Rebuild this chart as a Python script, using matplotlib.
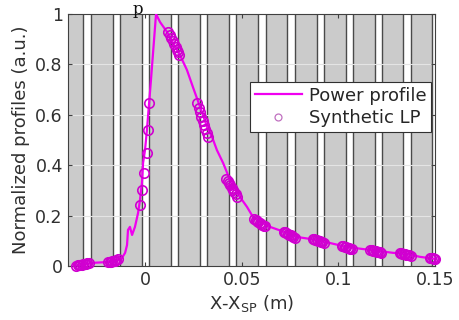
import matplotlib
matplotlib.use("Agg")
import matplotlib.pyplot as plt

# Power profile (normalized)
power_x = [-0.0362, -0.0326, -0.0274, -0.0181, -0.0140, -0.0119, -0.0103, -0.0093,
           -0.0088, -0.0078, -0.0067, -0.0052, -0.0036, -0.0026, -0.0016, -0.0010,
           0.0000, 0.0010, 0.0031, 0.0057, 0.0078, 0.0114, 0.0145, 0.0181, 0.0217,
           0.0248, 0.0285, 0.0321, 0.0347, 0.0372, 0.0404, 0.0440, 0.0491, 0.0528,
           0.0559, 0.0595, 0.0647, 0.0735, 0.0786, 0.0890, 0.0957, 0.1045, 0.1128,
           0.1200, 0.1283, 0.1355, 0.1423, 0.1500]
power_y = [0.000, 0.004, 0.012, 0.016, 0.024, 0.032, 0.052, 0.083,
           0.143, 0.155, 0.123, 0.155, 0.210, 0.262, 0.329, 0.409,
           0.460, 0.540, 0.740, 1.000, 0.968, 0.929, 0.885, 0.837, 0.778,
           0.710, 0.631, 0.552, 0.512, 0.460, 0.409, 0.341, 0.274, 0.234,
           0.194, 0.175, 0.155, 0.131, 0.115, 0.103, 0.091, 0.075, 0.067,
           0.060, 0.052, 0.048, 0.036, 0.028]

# Synthetic Langmuir probe points
lp_x = [-0.0355, -0.0348, -0.0341, -0.0334, -0.0327, -0.0320, -0.0313, -0.0306, -0.0299, -0.0292,
        -0.0190, -0.0183, -0.0176, -0.0169, -0.0162, -0.0155, -0.0148, -0.0141,
        -0.0026, -0.0016, -0.0005, 0.0010, 0.0016, 0.0021,
        0.0120, 0.0128, 0.0136, 0.0144, 0.0151, 0.0158, 0.0165, 0.0172, 0.0178,
        0.0270, 0.0277, 0.0284, 0.0291, 0.0298, 0.0305, 0.0312, 0.0320, 0.0328,
        0.0420, 0.0427, 0.0434, 0.0441, 0.0448, 0.0455, 0.0462, 0.0470, 0.0478,
        0.0565, 0.0572, 0.0579, 0.0586, 0.0593, 0.0600, 0.0607, 0.0614, 0.0621,
        0.0718, 0.0725, 0.0732, 0.0739, 0.0746, 0.0753, 0.0760, 0.0767, 0.0774,
        0.0868, 0.0875, 0.0882, 0.0889, 0.0896, 0.0903, 0.0910, 0.0917, 0.0924,
        0.1020, 0.1027, 0.1034, 0.1041, 0.1048, 0.1055, 0.1062, 0.1069,
        0.1165, 0.1172, 0.1179, 0.1186, 0.1193, 0.1200, 0.1207, 0.1214, 0.1221,
        0.1318, 0.1325, 0.1332, 0.1339, 0.1346, 0.1353, 0.1360, 0.1367, 0.1374,
        0.1475, 0.1482, 0.1489, 0.1496, 0.1500]
lp_y = [0.000, 0.002, 0.003, 0.004, 0.005, 0.006, 0.008, 0.009, 0.010, 0.011,
        0.016, 0.016, 0.017, 0.018, 0.019, 0.021, 0.023, 0.026,
        0.242, 0.302, 0.369, 0.448, 0.540, 0.647,
        0.930, 0.918, 0.905, 0.893, 0.880, 0.868, 0.858, 0.848, 0.838,
        0.645, 0.628, 0.610, 0.593, 0.575, 0.558, 0.542, 0.527, 0.512,
        0.345, 0.337, 0.329, 0.320, 0.311, 0.302, 0.293, 0.284, 0.275,
        0.188, 0.184, 0.180, 0.176, 0.172, 0.168, 0.164, 0.160, 0.157,
        0.136, 0.133, 0.130, 0.127, 0.124, 0.121, 0.118, 0.115, 0.112,
        0.108, 0.106, 0.104, 0.102, 0.100, 0.098, 0.096, 0.094, 0.092,
        0.081, 0.079, 0.077, 0.075, 0.073, 0.071, 0.069, 0.067,
        0.065, 0.063, 0.061, 0.059, 0.058, 0.057, 0.056, 0.054, 0.053,
        0.053, 0.051, 0.049, 0.047, 0.046, 0.045, 0.043, 0.042, 0.041,
        0.032, 0.031, 0.030, 0.029, 0.028]

# Gaps between gray tiles (start positions, m)
gap_starts = [-0.0320, -0.0168, -0.0017, 0.0133, 0.0283, 0.0433, 0.0585,
              0.0735, 0.0888, 0.1038, 0.1188, 0.1335, 0.1485]
gap_width = 0.0039

x_ticks = [0, 0.05, 0.1, 0.15]
x_tick_labels = ["0", "0.05", "0.1", "0.15"]
y_ticks = [0, 0.2, 0.4, 0.6, 0.8, 1.0]
y_tick_labels = ["0", "0.2", "0.4", "0.6", "0.8", "1"]

xmin, xmax = -0.04, 0.15

fig = plt.figure(figsize=(4.59, 3.20), dpi=100)
ax = fig.add_axes([0.1475, 0.169, 0.800, 0.787])
ax.set_xlim(xmin, xmax)
ax.set_ylim(0, 1)

tile_color = "#cbcbcb"
edge_color = "#4a4a4a"
# gray tiles
left = xmin
for gs in gap_starts:
    if gs > left:
        ax.axvspan(left, gs, color=tile_color, lw=0, zorder=0)
    left = gs + gap_width
if left < xmax:
    ax.axvspan(left, xmax, color=tile_color, lw=0, zorder=0)
for gs in gap_starts:
    for e in (gs, gs + gap_width):
        if xmin < e < xmax:
            ax.axvline(e, color=edge_color, lw=1.0, zorder=1)

for yt in y_ticks[1:-1]:
    ax.axhline(yt, color="#e4e4e4", lw=0.8, zorder=1.5)

ax.plot(power_x, power_y, color="#f000f0", lw=1.6, zorder=3, label="Power profile")
ax.plot(lp_x, lp_y, linestyle="none", marker="o", ms=6.8, mfc="none",
        mec="#d000d0", mew=1.2, zorder=4, clip_on=False, label="Synthetic LP")

ax.set_xticks(x_ticks)
ax.set_xticklabels(x_tick_labels)
ax.set_yticks(y_ticks)
ax.set_yticklabels(y_tick_labels)
ax.tick_params(direction="in", length=3, width=0.8, colors="#404040",
               labelcolor="#303030", labelsize=12.5, top=True, right=True)
for s in ax.spines.values():
    s.set_color("#404040")
    s.set_linewidth(0.8)

ax.set_xlabel("X-X$_{\\mathrm{SP}}$ (m)", fontsize=13, color="#303030", labelpad=3)
ax.set_ylabel("Normalized profiles (a.u.)", fontsize=13, color="#303030", labelpad=4)

leg = ax.legend(loc="upper right", bbox_to_anchor=(0.99, 0.73), fontsize=13,
                frameon=True, fancybox=False, framealpha=1, edgecolor="#303030",
                borderpad=0.25, handlelength=2.6, handletextpad=0.4, labelspacing=0.25,
                borderaxespad=0.0)
leg.get_frame().set_linewidth(0.8)
for t in leg.get_texts():
    t.set_color("#262626")
leg.legend_handles[1].set_markersize(5)
leg.legend_handles[1].set_markeredgewidth(0.9)
leg.legend_handles[1].set_markeredgecolor("#c070c0")

fig.text(0.300, 0.997, "p", family="DejaVu Serif", fontsize=12, color="#111111",
         ha="center", va="top")

fig.savefig("out.png", dpi=100, facecolor="white")
